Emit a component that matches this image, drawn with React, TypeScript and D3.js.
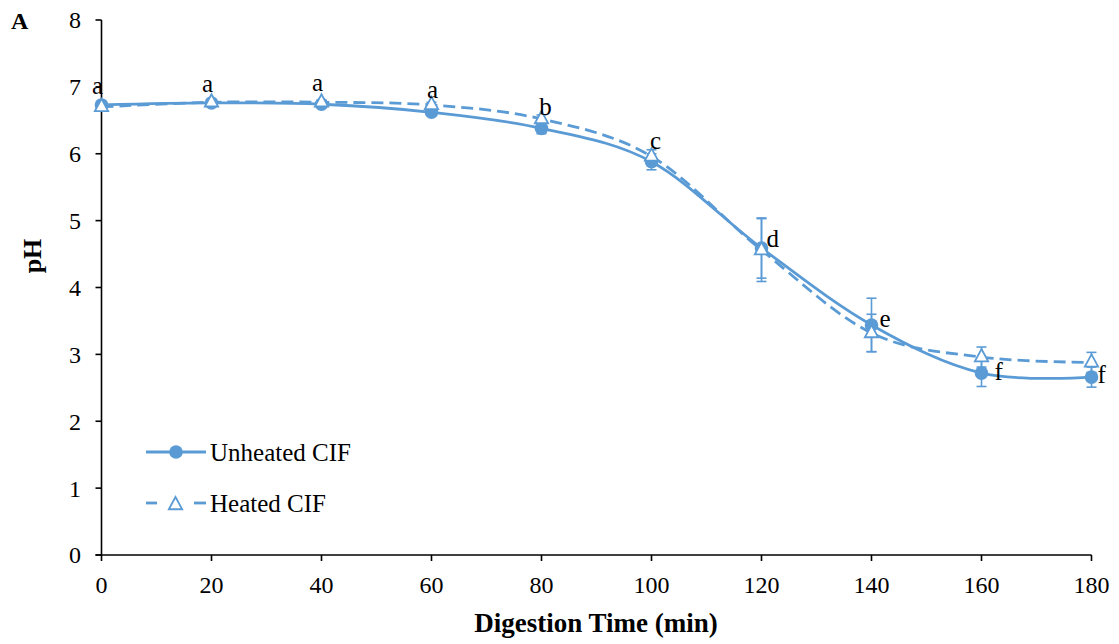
import React from "react";
import * as d3 from "d3";

const times = [0, 20, 40, 60, 80, 100, 120, 140, 160, 180];
const unheated = [6.73, 6.76, 6.74, 6.62, 6.38, 5.88, 4.59, 3.44, 2.72, 2.66];
const unheatedErr = [0.04, 0.03, 0.04, 0.05, 0.08, 0.12, 0.45, 0.4, 0.2, 0.15];
const heated = [6.7, 6.77, 6.77, 6.73, 6.52, 5.96, 4.56, 3.32, 2.96, 2.88];
const heatedErr = [0.03, 0.03, 0.03, 0.04, 0.06, 0.1, 0.47, 0.28, 0.15, 0.15];
const letters = ["a", "a", "a", "a", "b", "c", "d", "e", "f", "f"];
const xTicks = [0, 20, 40, 60, 80, 100, 120, 140, 160, 180];
const yTicks = [0, 1, 2, 3, 4, 5, 6, 7, 8];

const W = 1119;
const H = 644;
const BLUE = "#5B9BD5";
const FONT = "'Liberation Serif', 'Times New Roman', serif";

export default function App() {
  const x = d3.scaleLinear().domain([0, 180]).range([101.5, 1091.5]);
  const y = d3.scaleLinear().domain([0, 8]).range([555, 20]);

  const line = d3
    .line<number>()
    .x((_, i) => x(times[i]))
    .y((d) => y(d))
    .curve(d3.curveCardinal.tension(0));

  const tri = (cx: number, cy: number, s: number) =>
    `M${cx},${cy - s} L${cx + s * 0.95},${cy + s * 0.75} L${cx - s * 0.95},${cy + s * 0.75} Z`;

  // [dx, dy, anchor relative to heated(0) or unheated(1), text-anchor]
  const labelPos: [number, number, number, string][] = [
    [-4, -13, 0, "middle"],
    [-4, -10, 0, "middle"],
    [-4, -11, 0, "middle"],
    [1, -7, 0, "middle"],
    [4, -4, 0, "middle"],
    [4, -7, 0, "middle"],
    [5, -1, 1, "start"],
    [8, 2, 1, "start"],
    [13, 7, 1, "start"],
    [6, 6, 1, "start"],
  ];

  const errBars = (vals: number[], errs: number[], key: string) =>
    vals.map((v, i) => {
      const cx = x(times[i]);
      const y1 = y(v + errs[i]);
      const y2 = y(v - errs[i]);
      return (
        <g key={key + i} stroke={BLUE} strokeWidth={1.6}>
          <line x1={cx} x2={cx} y1={y1} y2={y2} />
          <line x1={cx - 5} x2={cx + 5} y1={y1} y2={y1} />
          <line x1={cx - 5} x2={cx + 5} y1={y2} y2={y2} />
        </g>
      );
    });

  return (
    <svg width={W} height={H} style={{ position: "absolute", left: 0, top: 0, background: "#fff" }} fontFamily={FONT}>
      <rect width={W} height={H} fill="#fff" />
      <text x={11} y={29} fontSize={24} fontWeight="bold">A</text>

      {/* axes */}
      <line x1={x(0)} x2={x(0)} y1={y(8)} y2={y(0)} stroke="#000" strokeWidth={1.6} />
      <line x1={x(0) - 6} x2={x(180)} y1={y(0)} y2={y(0)} stroke="#000" strokeWidth={1.6} />
      {yTicks.map((t) => (
        <g key={"yt" + t}>
          <line x1={x(0) - 6} x2={x(0)} y1={y(t)} y2={y(t)} stroke="#000" strokeWidth={1.6} />
          <text x={81} y={y(t)} dy="0.35em" textAnchor="end" fontSize={24}>{t}</text>
        </g>
      ))}
      {xTicks.map((t) => (
        <g key={"xt" + t}>
          <line x1={x(t)} x2={x(t)} y1={y(0)} y2={y(0) + 6} stroke="#000" strokeWidth={1.6} />
          <text x={x(t)} y={593} textAnchor="middle" fontSize={24}>{t}</text>
        </g>
      ))}
      <text x={596} y={632} textAnchor="middle" fontSize={27} fontWeight="bold">Digestion Time (min)</text>
      <text transform="translate(41,256) rotate(-90)" textAnchor="middle" fontSize={26} fontWeight="bold">pH</text>

      {/* unheated */}
      {errBars(unheated, unheatedErr, "ue")}
      <path d={line(unheated) || ""} fill="none" stroke={BLUE} strokeWidth={2.8} />
      {unheated.map((v, i) => (
        <circle key={"uc" + i} cx={x(times[i])} cy={y(v)} r={6.8} fill={BLUE} />
      ))}

      {/* heated */}
      {errBars(heated, heatedErr, "he")}
      <path d={line(heated) || ""} fill="none" stroke={BLUE} strokeWidth={2.8} strokeDasharray="12,6" />
      {heated.map((v, i) => (
        <path key={"ht" + i} d={tri(x(times[i]), y(v) - 1, 7)} fill="#fff" stroke={BLUE} strokeWidth={1.8} />
      ))}

      {/* letters */}
      {letters.map((l, i) => {
        const [dx, dy, ref, anchor] = labelPos[i];
        const base = ref === 0 ? heated[i] : unheated[i];
        return (
          <text key={"l" + i} x={x(times[i]) + dx} y={y(base) + dy} textAnchor={anchor as any} fontSize={25}>
            {l}
          </text>
        );
      })}

      {/* legend */}
      <line x1={146} x2={206} y1={452} y2={452} stroke={BLUE} strokeWidth={2.8} />
      <circle cx={176} cy={452} r={6.8} fill={BLUE} />
      <text x={210} y={452} dy="0.35em" fontSize={25}>Unheated CIF</text>
      <line x1={146} x2={157} y1={503} y2={503} stroke={BLUE} strokeWidth={2.8} />
      <line x1={194} x2={206} y1={503} y2={503} stroke={BLUE} strokeWidth={2.8} />
      <path d={tri(175.5, 504, 7)} fill="#fff" stroke={BLUE} strokeWidth={1.8} />
      <text x={210} y={503} dy="0.35em" fontSize={25}>Heated CIF</text>
    </svg>
  );
}
